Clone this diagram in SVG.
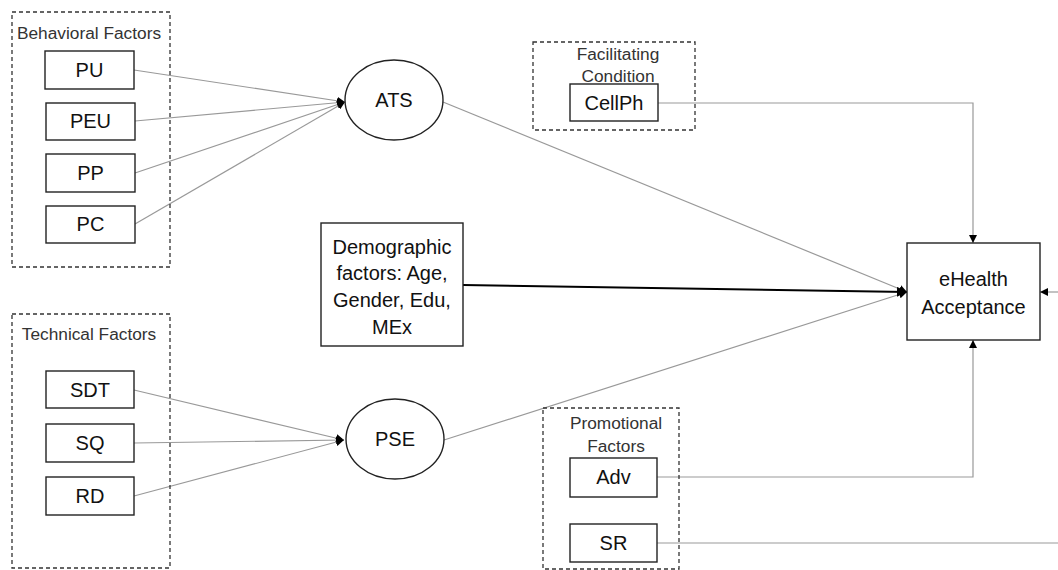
<svg xmlns="http://www.w3.org/2000/svg" width="1058" height="570" viewBox="0 0 1058 570">
<defs>
<marker id="ah" viewBox="0 0 10 10" refX="10" refY="5" markerWidth="8" markerHeight="8" markerUnits="userSpaceOnUse" orient="auto">
<path d="M0,0 L10,5 L0,10 z" fill="#000"/>
</marker>
<marker id="ahb" viewBox="0 0 10 10" refX="10" refY="5" markerWidth="10" markerHeight="10" markerUnits="userSpaceOnUse" orient="auto">
<path d="M0,0 L10,5 L0,10 z" fill="#000"/>
</marker>
</defs>
<style>
.grp{fill:none;stroke:#333;stroke-width:1.3;stroke-dasharray:4,3}
.box{fill:#fff;stroke:#222;stroke-width:1.4}
.t{font-family:"Liberation Sans",Arial,sans-serif;font-size:20px;fill:#111;text-anchor:middle}
.h{font-family:"Liberation Sans",Arial,sans-serif;font-size:17.3px;fill:#333;text-anchor:middle}
.c{fill:none;stroke:#999;stroke-width:1.2;marker-end:url(#ah)}
.cn{fill:none;stroke:#999;stroke-width:1.2}
.cb{fill:none;stroke:#000;stroke-width:2;marker-end:url(#ahb)}
</style>
<rect width="1058" height="570" fill="#fff"/>

<g id="connectors">
<line class="c" x1="134" y1="70" x2="345" y2="102"/>
<line class="c" x1="135" y1="121" x2="345" y2="102"/>
<line class="c" x1="135" y1="173" x2="345" y2="102"/>
<line class="c" x1="135" y1="224" x2="345" y2="102"/>
<line class="c" x1="134" y1="390" x2="344" y2="440"/>
<line class="c" x1="134" y1="443" x2="344" y2="440"/>
<line class="c" x1="134" y1="496" x2="344" y2="440"/>
<line class="c" x1="443" y1="102" x2="907" y2="292"/>
<line class="c" x1="444" y1="440" x2="907" y2="292"/>
<line class="cb" x1="463" y1="285" x2="907" y2="292"/>
<polyline class="c" points="658,103 973,103 973,243"/>
<polyline class="c" points="657,477 973,477 973,340"/>
<line class="c" x1="1058" y1="292" x2="1040" y2="292"/>
<line class="cn" x1="657" y1="543" x2="1058" y2="543"/>
</g>

<g id="behavioral-factors">
<rect class="grp" x="12" y="12" width="158" height="255"/>
<text class="h" x="89" y="39">Behavioral Factors</text>
</g>
<g id="PU"><rect class="box" x="45" y="51" width="89" height="38"/><text class="t" x="89.5" y="77">PU</text></g>
<g id="PEU"><rect class="box" x="46" y="103" width="89" height="37"/><text class="t" x="90.5" y="128">PEU</text></g>
<g id="PP"><rect class="box" x="46" y="154" width="89" height="38"/><text class="t" x="90.5" y="180">PP</text></g>
<g id="PC"><rect class="box" x="46" y="206" width="89" height="37"/><text class="t" x="90.5" y="231">PC</text></g>

<g id="technical-factors">
<rect class="grp" x="12" y="314" width="158" height="254"/>
<text class="h" x="89" y="340">Technical Factors</text>
</g>
<g id="SDT"><rect class="box" x="46" y="371" width="88" height="37"/><text class="t" x="90" y="397">SDT</text></g>
<g id="SQ"><rect class="box" x="46" y="424" width="88" height="38"/><text class="t" x="90" y="450">SQ</text></g>
<g id="RD"><rect class="box" x="46" y="477" width="88" height="38"/><text class="t" x="90" y="503">RD</text></g>

<g id="ATS"><ellipse class="box" cx="394" cy="100" rx="49" ry="40"/><text class="t" x="394" y="107">ATS</text></g>
<g id="PSE"><ellipse class="box" cx="395" cy="439" rx="49" ry="40"/><text class="t" x="395" y="446">PSE</text></g>

<g id="demographic">
<rect class="box" x="321" y="223" width="142" height="123"/>
<text class="t" x="392" y="254">Demographic</text>
<text class="t" x="392" y="280">factors: Age,</text>
<text class="t" x="392" y="307">Gender, Edu,</text>
<text class="t" x="392" y="334">MEx</text>
</g>

<g id="facilitating-condition">
<rect class="grp" x="533" y="42" width="162" height="88"/>
<text class="h" x="618" y="60">Facilitating</text>
<text class="h" x="618" y="82">Condition</text>
</g>
<g id="CellPh"><rect class="box" x="570" y="84" width="88" height="37"/><text class="t" x="614" y="110">CellPh</text></g>

<g id="promotional-factors">
<rect class="grp" x="543" y="408" width="136" height="161"/>
<text class="h" x="616" y="429">Promotional</text>
<text class="h" x="616" y="452">Factors</text>
</g>
<g id="Adv"><rect class="box" x="570" y="458" width="87" height="39"/><text class="t" x="613.5" y="484">Adv</text></g>
<g id="SR"><rect class="box" x="570" y="524" width="87" height="38"/><text class="t" x="613.5" y="550">SR</text></g>

<g id="eHealth">
<rect class="box" x="907" y="243" width="133" height="97"/>
<text class="t" x="973.5" y="286">eHealth</text>
<text class="t" x="973.5" y="314">Acceptance</text>
</g>
</svg>
